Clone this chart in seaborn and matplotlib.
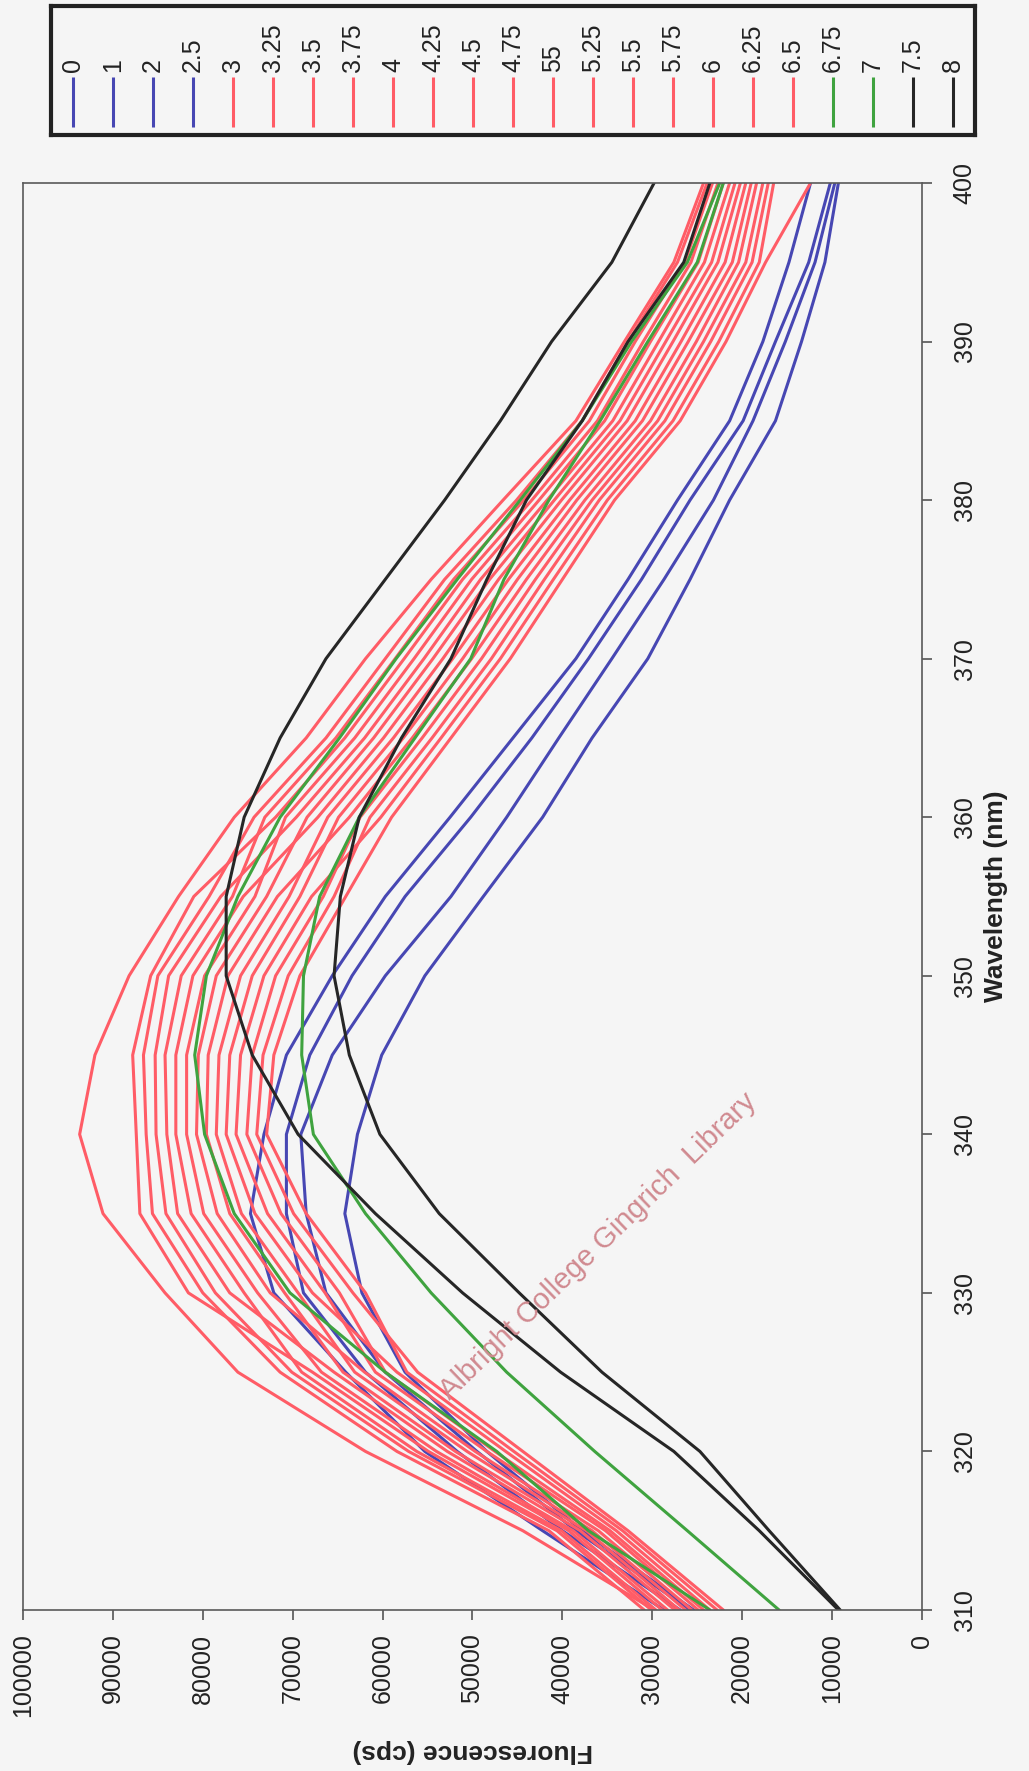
import matplotlib
matplotlib.use("Agg")
import matplotlib.pyplot as plt
import pandas as pd
import seaborn as sns

# wavelength grid (nm) the curves were read at
wavelength = [310, 315, 320, 325, 330, 335, 340, 345, 350, 355,
              360, 365, 370, 375, 380, 385, 390, 395, 400]

# fluorescence (cps) per pH
ph_0 = [28700, 42200, 55300, 64100, 72100, 74700, 73200, 70700, 65600, 59700,
        52500, 45500, 38500, 32700, 27200, 21400, 17700, 14800, 12400]
ph_1 = [26900, 40000, 51700, 61900, 68800, 70700, 70700, 68100, 63400, 57500,
        50200, 43400, 37100, 31200, 25800, 19900, 16300, 12600, 10200]
ph_2 = [25800, 38500, 49500, 59700, 66300, 68500, 69100, 65600, 59700, 52400,
        46200, 40400, 34500, 28700, 23200, 18800, 15200, 11900, 9700]
ph_2_5 = [25400, 37800, 48400, 57500, 62300, 64200, 62800, 60100, 55300, 48800,
          42200, 36700, 30500, 25800, 21400, 16300, 13400, 10800, 9300]
ph_3 = [29800, 44400, 61900, 76100, 84200, 91100, 93700, 92000, 88200, 82700,
        76500, 68500, 61900, 54600, 46600, 38500, 33100, 27600, 24300]
ph_3_25 = [28900, 39300, 54900, 67800, 81600, 87000, 87400, 87800, 85800, 81000,
           71900, 64200, 57600, 51100, 43400, 36100, 31000, 25700, 22700]
ph_3_5 = [30900, 41500, 58400, 71400, 80000, 85600, 86300, 86600, 85000, 79300,
          74300, 66300, 59700, 53100, 45100, 37800, 32700, 27200, 23900]
ph_3_75 = [30100, 40600, 57100, 70100, 78600, 84100, 85200, 85300, 83800, 78000,
           69600, 62000, 55400, 49100, 41700, 34400, 29300, 24200, 21400]
ph_4 = [27500, 38000, 52800, 65400, 77000, 82800, 84000, 84200, 82400, 76700,
        73100, 65200, 58600, 52100, 44300, 37000, 31900, 26400, 23300]
ph_4_25 = [29600, 40100, 56200, 69000, 75400, 81300, 83000, 83000, 81100, 75500,
           67200, 59900, 53300, 47100, 40100, 32800, 27700, 22700, 20200]
ph_4_5 = [28300, 38800, 54000, 66800, 73900, 79900, 81800, 81800, 79800, 74200,
          70800, 63100, 56500, 50100, 42600, 35300, 30200, 24900, 22100]
ph_4_75 = [25600, 36000, 49700, 62000, 72500, 78400, 80700, 80500, 78500, 72900,
           68400, 61000, 54400, 48100, 40900, 33600, 28500, 23400, 20800]
ph_55 = [27000, 37300, 51900, 64400, 70900, 77000, 79600, 79400, 77200, 71700,
         63700, 56700, 50100, 44000, 37500, 30200, 25100, 20400, 18400]
ph_5_25 = [26300, 36700, 50600, 63100, 69400, 75700, 78500, 78200, 75800, 70400,
           66100, 58800, 52200, 46000, 39200, 31900, 26800, 21900, 19600]
ph_5_5 = [23600, 34000, 46300, 58400, 67800, 74200, 77400, 77000, 74500, 69200,
          64900, 57700, 51100, 45000, 38400, 31100, 26000, 21100, 19000]
ph_5_75 = [24900, 35200, 48400, 60800, 66400, 72800, 76300, 75800, 73200, 67900,
           60200, 53500, 46900, 41000, 35000, 27700, 22600, 18100, 16500]
ph_6 = [24300, 34700, 47500, 59700, 64800, 71300, 75100, 74500, 71900, 66600,
        62500, 55600, 49000, 43000, 36700, 29400, 24300, 19600, 17700]
ph_6_25 = [22100, 32700, 44400, 56100, 63300, 69900, 74000, 73300, 70500, 65400,
           61400, 54500, 47900, 42000, 35900, 28600, 23500, 18900, 17100]
ph_6_5 = [22800, 33300, 45400, 57300, 61900, 68500, 72900, 72100, 69200, 64100,
          59000, 52400, 45800, 40000, 34200, 26900, 21800, 17400, 12400]
ph_6_75 = [23600, 37100, 47300, 59700, 70300, 76500, 79800, 80900, 79600, 76100,
           71400, 64800, 58500, 51700, 44700, 37800, 32300, 26100, 22500]
ph_7 = [15900, 26100, 36400, 46200, 54600, 61900, 67700, 69000, 68800, 67000,
        62600, 56400, 50200, 46500, 41500, 35800, 30500, 25000, 22100]
ph_7_5 = [9300, 18100, 27600, 40200, 51100, 60800, 69400, 74500, 77400, 77400,
          75400, 71400, 66300, 59700, 53100, 46900, 41200, 34500, 29800]
ph_8 = [9100, 17000, 24700, 35600, 44800, 53700, 60300, 63700, 65400, 64700,
        62600, 57900, 52400, 48400, 44000, 37800, 32700, 26500, 23600]

labels = ["0", "1", "2", "2.5", "3", "3.25", "3.5", "3.75", "4", "4.25", "4.5",
          "4.75", "55", "5.25", "5.5", "5.75", "6", "6.25", "6.5", "6.75", "7",
          "7.5", "8"]
series = [ph_0, ph_1, ph_2, ph_2_5, ph_3, ph_3_25, ph_3_5, ph_3_75, ph_4,
          ph_4_25, ph_4_5, ph_4_75, ph_55, ph_5_25, ph_5_5, ph_5_75, ph_6,
          ph_6_25, ph_6_5, ph_6_75, ph_7, ph_7_5, ph_8]
colours = ["#4747b3"] * 4 + ["#ff5c66"] * 15 + ["#3fa33f"] * 2 + ["#262626"] * 2

fluor_ticks = list(range(0, 100001, 10000))
wl_ticks = list(range(310, 401, 10))

rows = []
for lab, vals in zip(labels, series):
    for w, f in zip(wavelength, vals):
        rows.append((lab, w, f))
df = pd.DataFrame(rows, columns=["pH", "wavelength", "fluorescence"])

paper = "#f5f5f5"
sns.set_theme(style="white")
plt.rcParams["font.family"] = ["Liberation Sans", "DejaVu Sans"]

W, H = 1029, 1771
fig = plt.figure(figsize=(W / 100, H / 100), dpi=100, facecolor=paper)

# the page is scanned turned a quarter turn, so the chart is drawn on its side
ax = fig.add_axes([23 / W, 1 - 1610 / H, 899 / W, 1427 / H])
ax.set_facecolor(paper)
sns.lineplot(data=df, x="fluorescence", y="wavelength", hue="pH",
             palette=dict(zip(labels, colours)), hue_order=labels,
             orient="y", estimator=None, legend=False, linewidth=2.2, ax=ax)

ax.set_xlim(100000, 0)
ax.set_ylim(310, 400)
ax.set_xticks(fluor_ticks, labels=[str(t) for t in fluor_ticks],
              rotation=90, ha="center", va="top", fontsize=18, color="#222222")
ax.set_yticks(wl_ticks, labels=[str(t) for t in wl_ticks],
              rotation=90, va="center", fontsize=18, color="#222222")
ax.yaxis.tick_right()
ax.tick_params(axis="x", bottom=True, direction="out", length=7, width=1.2,
               color="#555555", pad=10)
ax.tick_params(axis="y", left=False, right=True, labelleft=False,
               labelright=True, direction="out", length=7, width=1.2,
               color="#555555", pad=15)
for s in ax.spines.values():
    s.set_color("#5a5a5a")
    s.set_linewidth(1.2)

ax.set_xlabel("Fluorescence (cps)", fontsize=19, fontweight="bold",
              rotation=180, color="#222222")
ax.xaxis.label.set_verticalalignment("center")
ax.xaxis.set_label_coords(0.5, (1610 - 1751) / 1427)
ax.yaxis.set_label_position("right")
ax.set_ylabel("Wavelength (nm)", fontsize=19, fontweight="bold",
              rotation=90, color="#222222")
ax.yaxis.label.set_verticalalignment("center")
ax.yaxis.set_label_coords((996 - 23) / 899, 0.5)

# legend, laid along the top edge like the rotated original
leg = fig.add_axes([51 / W, 1 - 135 / H, 924 / W, 129 / H])
leg.set_facecolor(paper)
leg.set_xlim(-0.55, len(labels) - 0.45)
leg.set_ylim(0, 1)
leg.set_xticks([])
leg.set_yticks([])
leg.vlines(range(len(labels)), 0.06, 0.45, colors=colours, linewidth=2.2)
for i, lab in enumerate(labels):
    leg.text(i, 0.49, lab, rotation=90, ha="center", va="bottom",
             fontsize=18, color="#222222")
for s in leg.spines.values():
    s.set_color("#222222")
    s.set_linewidth(3)

fig.text(598 / W, 1 - 1246 / H, "Albright College Gingrich  Library",
         rotation=44, rotation_mode="anchor", ha="center", va="center",
         fontsize=21, color="#d08a90")

fig.savefig("out.png", dpi=100, facecolor=paper)
